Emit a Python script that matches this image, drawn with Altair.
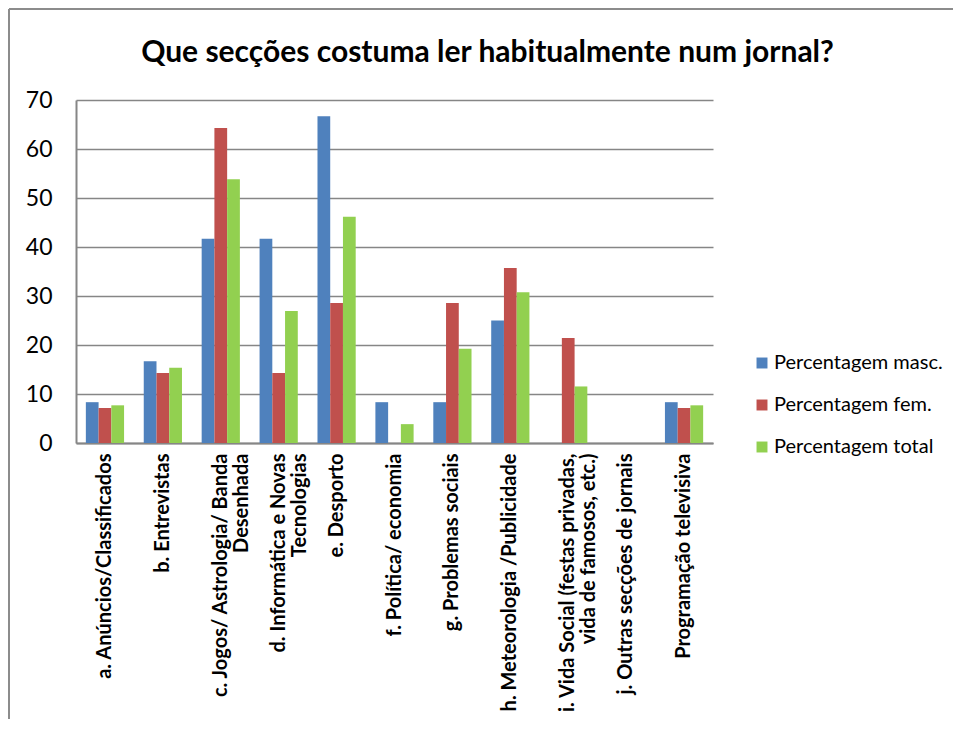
import altair as alt
import pandas as pd

categories = [
    "a. Anúncios/Classificados",
    "b. Entrevistas",
    "c. Jogos/ Astrologia/ Banda|Desenhada",
    "d. Informática e Novas|Tecnologias",
    "e. Desporto",
    "f. Política/ economia",
    "g. Problemas sociais",
    "h. Meteorologia /Publicidade",
    "i. Vida Social (festas privadas,|vida de famosos, etc.)",
    "j. Outras secções de jornais",
    "Programação televisiva",
]
series = ["Percentagem masc.", "Percentagem fem.", "Percentagem total"]
masc = [8.33, 16.67, 41.67, 41.67, 66.67, 8.33, 8.33, 25.0, 0, 0, 8.33]
fem = [7.14, 14.29, 64.29, 14.29, 28.57, 0, 28.57, 35.71, 21.43, 0, 7.14]
total = [7.69, 15.38, 53.85, 26.92, 46.15, 3.85, 19.23, 30.77, 11.54, 0, 7.69]
colors = ["#4F81BD", "#C0504D", "#92D050"]
y_ticks = [0, 10, 20, 30, 40, 50, 60, 70]

rows = []
for s, vals in zip(series, [masc, fem, total]):
    for c, v in zip(categories, vals):
        rows.append({"cat": c, "series": s, "value": v})
df = pd.DataFrame(rows)

FONT = "Lato"
W, H = 637, 343

bars = alt.Chart(df).mark_bar().encode(
    x=alt.X(
        "cat:N",
        sort=categories,
        scale=alt.Scale(paddingInner=0.34, paddingOuter=0.17),
        axis=alt.Axis(
            title=None,
            labelAngle=270,
            labelExpr="split(datum.value, '|')",
            labelFont=FONT,
            labelFontSize=20,
            labelFontWeight="bold",
            labelColor="black",
            labelLineHeight=21,
            labelPadding=10,
            ticks=False,
            domainColor="#868686",
            domainWidth=2,
            labelLimit=400,
        ),
    ),
    xOffset=alt.XOffset("series:N", sort=series, scale=alt.Scale(paddingInner=0, paddingOuter=0)),
    y=alt.Y(
        "value:Q",
        scale=alt.Scale(domain=[0, 70], nice=False),
        axis=alt.Axis(
            title=None,
            values=y_ticks,
            labelFont=FONT,
            labelFontSize=23,
            labelColor="black",
            labelPadding=24,
            ticks=False,
            domainColor="#868686",
            domainWidth=2,
            gridColor="#868686",
            gridWidth=1.5,
        ),
    ),
    color=alt.Color(
        "series:N",
        sort=series,
        scale=alt.Scale(domain=series, range=colors),
        legend=alt.Legend(
            title=None,
            orient="none",
            legendX=676,
            legendY=253,
            symbolType="square",
            symbolSize=120,
            symbolStrokeWidth=0,
            labelFont=FONT,
            labelFontSize=20,
            labelColor="black",
            labelLimit=300,
            rowPadding=22,
            labelOffset=2,
        ),
    ),
)

border = alt.Chart(pd.DataFrame({"k": [0]})).mark_rule(color="#8c8c8c", strokeWidth=2).encode(
    x=alt.value(-67), y=alt.value(-91), x2=alt.value(900)
)
border2 = alt.Chart(pd.DataFrame({"k": [0]})).mark_rule(color="#8c8c8c", strokeWidth=2).encode(
    x=alt.value(-67), y=alt.value(-91), y2=alt.value(640)
)

chart = alt.layer(bars, border, border2).properties(
    width=W,
    height=H,
    autosize=alt.AutoSizeParams(type="none"),
    padding={"left": 68, "top": 92, "right": 240, "bottom": 276},
    title=alt.TitleParams(
        "Que secções costuma ler habitualmente num jornal?",
        font=FONT,
        fontSize=30,
        fontWeight="bold",
        color="black",
        anchor="middle",
        dx=93,
        offset=-60,
    ),
).configure_view(stroke=None)

chart.save("out.html", embed_options={"renderer": "svg", "actions": False})
